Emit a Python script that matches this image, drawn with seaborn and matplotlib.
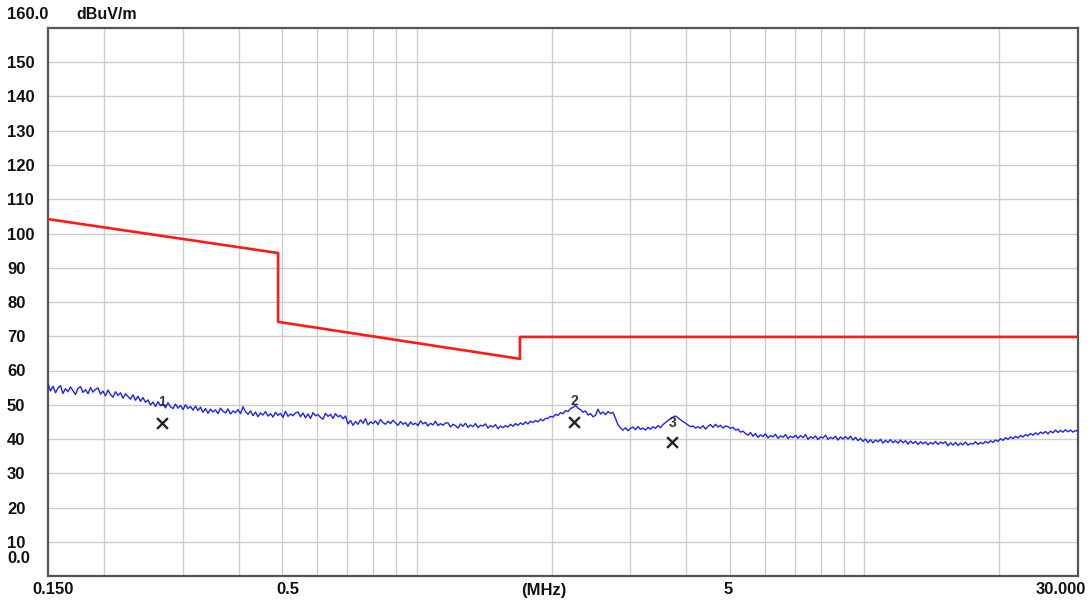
import numpy as np
import pandas as pd
import matplotlib
matplotlib.use("Agg")
import matplotlib.pyplot as plt
import matplotlib.transforms as mtransforms
import seaborn as sns

# ---------------- data ----------------
limit_freq = [0.15, 0.49, 0.49, 1.7, 1.7, 30.0]
limit_db = [104.2, 94.3, 74.2, 63.4, 69.8, 69.8]

trace_db = [
    56.2, 54.0, 55.4, 53.5, 54.9, 55.6, 53.3, 54.7, 53.8, 55.2, 54.1, 53.0, 54.8, 55.3, 53.6, 54.4, 53.2, 55.0, 53.7, 54.5,
    54.9, 53.1, 54.0, 52.6, 54.3, 53.0, 52.2, 53.8, 52.7, 53.5, 51.9, 53.2, 52.4, 51.6, 52.9, 51.3, 52.5, 51.0, 52.1, 50.7,
    51.4, 49.9, 50.8, 49.5, 50.9, 49.7, 50.3, 49.1, 50.6, 49.4, 48.9, 50.2, 49.0, 49.8, 48.6, 50.0, 48.9, 49.5, 48.4, 49.6,
    48.3, 49.3, 47.8, 48.9, 47.5, 48.7, 47.9, 48.5, 47.4, 49.0, 48.1, 47.6, 48.8, 47.3, 48.2, 47.7, 48.6, 47.4, 49.4, 48.0,
    47.2, 48.2, 46.8, 47.9, 46.5, 47.6, 47.0, 48.0, 46.7, 47.4, 46.4, 47.8, 46.9, 47.5, 46.3, 48.1, 46.6, 47.3, 46.8, 47.6,
    47.9, 46.5, 47.6, 46.2, 47.3, 46.0, 47.7, 46.8, 47.1, 46.3, 45.8, 47.5, 46.6, 47.2, 46.0, 47.4, 46.5, 46.9, 45.9, 46.7,
    44.4, 45.4, 44.0, 45.1, 44.3, 45.6, 44.6, 45.9, 44.1, 45.0, 44.5, 45.3, 44.2, 45.7, 44.8, 44.3, 45.2, 44.5, 45.5, 44.7,
    44.0, 45.1, 44.3, 44.8, 43.7, 45.0, 44.2, 44.6, 43.9, 45.3, 44.4, 44.9, 43.8, 44.6, 44.1, 45.2, 43.9, 44.5, 44.0, 44.7,
    44.7, 43.5, 44.3, 43.9, 43.2, 44.4, 43.7, 44.6, 43.4, 44.1, 43.6, 44.5, 43.3, 44.0, 43.8, 44.4, 43.2, 43.9, 43.5, 44.2,
    43.0, 43.8, 43.3, 43.9, 43.5, 44.3, 43.7, 44.5, 44.0, 44.7, 44.2, 45.0, 44.4, 45.2, 44.8, 45.4, 45.0, 45.8, 45.3, 46.0,
    46.0, 46.6, 46.4, 47.2, 46.9, 47.7, 47.4, 48.3, 48.0, 48.9, 49.2, 49.8, 49.0, 48.6, 47.8, 48.2, 47.0, 47.4, 46.5, 46.9,
    48.7, 47.3, 47.9, 47.1, 48.0, 47.5, 47.8, 46.0, 44.2, 43.2, 42.6, 43.3, 42.4, 43.1, 43.5, 42.7, 43.6, 42.8, 43.2, 42.6,
    43.4, 42.9, 43.6, 43.1, 43.9, 43.3, 44.2, 44.8, 45.4, 45.9, 46.4, 46.7, 46.2, 45.6, 45.1, 44.6, 44.1, 43.6, 43.8, 43.2,
    43.6, 43.1, 43.9, 42.9, 43.7, 44.2, 43.4, 44.3, 43.5, 44.0, 43.2, 43.8, 43.6, 43.1, 43.4, 42.6, 42.9, 42.0, 42.3, 41.6,
    41.1, 41.9, 40.8, 41.6, 40.5, 41.2, 40.7, 41.5, 40.3, 41.0, 40.6, 41.4, 40.2, 40.9, 40.5, 41.3, 40.1, 40.8, 40.4, 41.1,
    40.2, 41.0, 40.4, 41.3, 39.9, 40.7, 40.2, 40.9, 39.8, 40.6, 40.3, 41.1, 39.9, 40.5, 40.1, 40.8, 39.7, 40.6, 40.0, 40.7,
    40.0, 40.8, 39.7, 40.5, 39.5, 40.2, 39.3, 40.0, 39.0, 39.8, 38.9, 39.7, 39.2, 39.9, 38.8, 39.6, 39.0, 39.8, 38.9, 39.5,
    38.8, 39.7, 38.9, 39.5, 38.5, 39.4, 38.7, 39.3, 38.4, 39.2, 38.6, 39.1, 38.3, 39.0, 38.5, 39.3, 38.4, 39.1, 38.7, 39.2,
    38.0, 38.9, 38.2, 39.0, 38.1, 38.8, 38.3, 39.1, 38.2, 38.7, 38.5, 39.2, 38.4, 39.0, 38.6, 39.3, 38.8, 39.5, 39.0, 39.7,
    39.3, 40.1, 39.6, 40.4, 39.9, 40.6, 40.1, 40.8, 40.3, 41.0, 40.6, 41.3, 40.9, 41.6, 41.1, 41.8, 41.3, 42.0, 41.6, 42.2,
    41.5, 42.3, 41.8, 42.6, 41.9, 42.5, 42.0, 42.7, 42.1, 42.6, 42.0, 42.5, 42.2,
]
trace_freq = np.geomspace(0.15, 30.0, len(trace_db))  # analyzer sweep grid

marker_freq = [0.270, 2.245, 3.72]
marker_db = [44.7, 45.0, 39.1]
marker_labels = ["1", "2", "3"]
marker_label_db = [50.8, 51.2, 44.6]

ytick_vals = [10, 20, 30, 40, 50, 60, 70, 80, 90, 100, 110, 120, 130, 140, 150]
xtick_vals = [0.15, 0.5, 5, 30]
xtick_labels = ["0.150", "0.5", "5", "30.000"]
xgrid_vals = [0.2, 0.3, 0.4, 0.5, 0.6, 0.7, 0.8, 0.9, 1, 2, 3, 4, 5, 6, 7, 8, 9, 10, 20]

# ---------------- plot ----------------
sns.set_theme(style="white")
plt.rcParams["font.family"] = ["Liberation Sans", "DejaVu Sans"]

FS = 12
fig = plt.figure(figsize=(10.92, 6.03), dpi=100)
ax = fig.add_axes([48 / 1092, 27 / 603, 1030 / 1092, 548 / 603])
ax.set_xscale("log")
ax.set_xlim(0.15, 30.0)
ax.set_ylim(0, 160)

grid_c = "#cdcdcd"
for g in xgrid_vals:
    ax.axvline(g, color=grid_c, lw=1.0, zorder=0)
for g in ytick_vals:
    ax.axhline(g, color=grid_c, lw=1.0, zorder=0)

trace_df = pd.DataFrame({"f": trace_freq, "v": trace_db})
sns.lineplot(data=trace_df, x="f", y="v", ax=ax, color="#2222f0", lw=1.0,
             estimator=None, sort=False, zorder=3)

limit_df = pd.DataFrame({"f": limit_freq, "v": limit_db})
sns.lineplot(data=limit_df, x="f", y="v", ax=ax, color="#ff1a1a", lw=1.9,
             estimator=None, sort=False, zorder=4)

mk_df = pd.DataFrame({"f": marker_freq, "v": marker_db})
sns.scatterplot(data=mk_df, x="f", y="v", ax=ax, marker="x", color="#222222",
                s=60, linewidth=1.7, zorder=5)
for f, v, lab in zip(marker_freq, marker_label_db, marker_labels):
    ax.text(f, v, lab, ha="center", va="center", fontsize=10,
            fontweight="bold", color="#333333", zorder=6)

# ticks
ax.set_yticks(ytick_vals)
ax.set_yticklabels([str(v) for v in ytick_vals])
ax.set_xticks(xtick_vals)
ax.set_xticklabels(xtick_labels)
ax.xaxis.set_minor_locator(matplotlib.ticker.NullLocator())
ax.tick_params(axis="both", length=0, labelsize=FS, colors="#111111")
ax.tick_params(axis="y", pad=29.5)
ax.tick_params(axis="x", pad=4)
for lab in ax.get_yticklabels():
    lab.set_ha("left")
    lab.set_fontweight("bold")
offsets = [5, 6, -2, -17]
for lab, dx in zip(ax.get_xticklabels(), offsets):
    lab.set_fontweight("bold")
    lab.set_transform(lab.get_transform() +
                      mtransforms.ScaledTranslation(dx / 100, 0, fig.dpi_scale_trans))
ax.set_xlabel("")
ax.set_ylabel("")

# extra axis texts
ytrans = mtransforms.blended_transform_factory(fig.transFigure, ax.transData)
ax.text(7 / 1092, 5, "0.0", transform=ytrans, ha="left", va="center",
        fontsize=FS, fontweight="bold", color="#111111")
ax.text(7 / 1092, 164, "160.0", transform=ytrans, ha="left", va="center",
        fontsize=FS, fontweight="bold", color="#111111", clip_on=False)
ax.text(76 / 1092, 164, "dBuV/m", transform=ytrans, ha="left", va="center",
        fontsize=11.5, fontweight="bold", color="#111111", clip_on=False)
fig.text(544 / 1092, 1 - 590 / 603, "(MHz)", ha="center", va="center",
         fontsize=FS, fontweight="bold", color="#111111")

for s in ax.spines.values():
    s.set_color("#555555")
    s.set_linewidth(1.6)
    s.set_visible(True)

fig.savefig("out.png", dpi=100, facecolor="white")
